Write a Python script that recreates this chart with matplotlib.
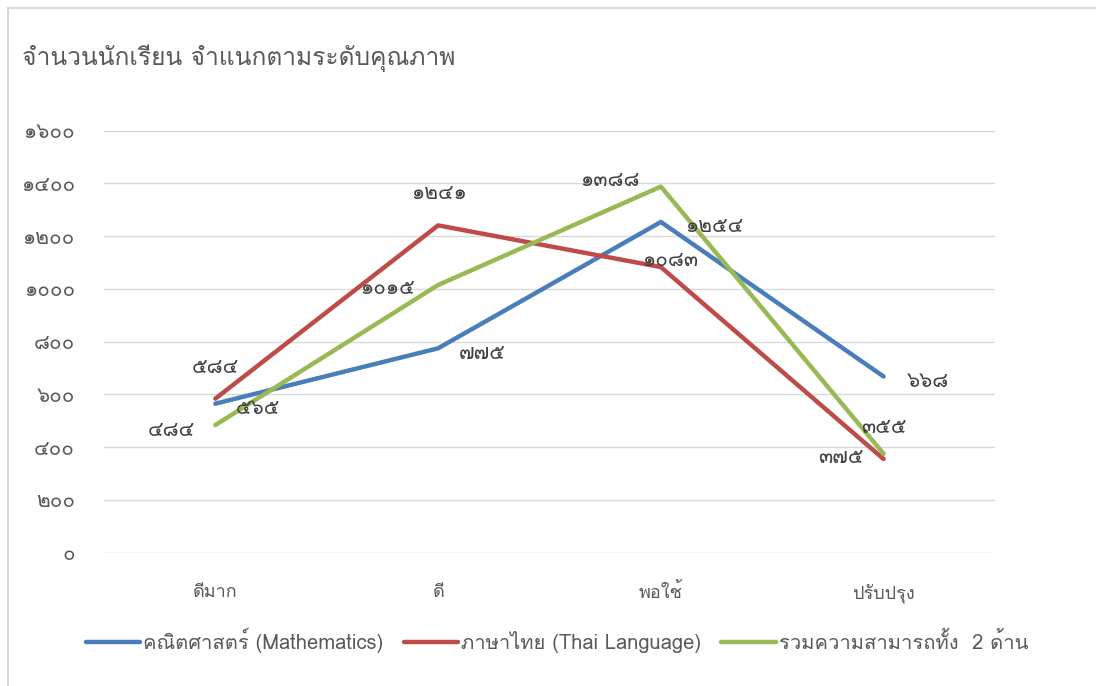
import matplotlib
matplotlib.use("Agg")
import matplotlib.pyplot as plt
from matplotlib import font_manager
from matplotlib.ft2font import FT2Font
from matplotlib.patches import Rectangle

# look for any installed family that has Thai glyphs
thai_fonts = []
for f in font_manager.fontManager.ttflist:
    try:
        if FT2Font(f.fname).get_char_index(ord("ก")) and f.name not in thai_fonts:
            thai_fonts.append(f.name)
    except Exception:
        pass
families = thai_fonts[:2] + ["DejaVu Sans"]
plt.rcParams["font.family"] = families

# data
categories = ["ดีมาก", "ดี", "พอใช้", "ปรับปรุง"]
math_vals = [565, 775, 1254, 668]
thai_vals = [584, 1241, 1083, 355]
total_vals = [484, 1015, 1388, 375]
math_labels = ["๕๖๕", "๗๗๕", "๑๒๕๔", "๖๖๘"]
thai_labels = ["๕๘๔", "๑๒๔๑", "๑๐๘๓", "๓๗๕"]
total_labels = ["๔๘๔", "๑๐๑๕", "๑๓๘๘", "๓๕๕"]
series_names = ["คณิตศาสตร์ (Mathematics)", "ภาษาไทย (Thai Language)", "รวมความสามารถทั้ง  2 ด้าน"]
yticks = [0, 200, 400, 600, 800, 1000, 1200, 1400, 1600]

THAI_DIGITS = str.maketrans("0123456789", "๐๑๒๓๔๕๖๗๘๙")

colors = ["#4a7ebb", "#be4b48", "#98b954"]
# label offsets in pixels (dx, dy), per series and point
offsets = [
    [(43, -5), (44, -5), (53, -5), (44, -5)],
    [(0, 31), (1, 32), (9, 7), (-43, 2)],
    [(-44, -5), (-51, -4), (-51, 6), (0, 26)],
]

fig = plt.figure(figsize=(10.96, 6.86), dpi=100)
fig.patches.append(Rectangle((8 / 1096, -0.01), 1.1, 1 - 8 / 686 + 0.01, transform=fig.transFigure,
                             fill=False, edgecolor="#d9d9d9", linewidth=1.5))
ax = fig.add_axes([104 / 1096, 1 - 552.7 / 686, 891 / 1096, 422 / 686])

x = list(range(len(categories)))
all_vals = [math_vals, thai_vals, total_vals]
all_labels = [math_labels, thai_labels, total_labels]
for vals, labs, offs, c, name in zip(all_vals, all_labels, offsets, colors, series_names):
    ax.plot(x, vals, color=c, linewidth=3.2, label=name, solid_capstyle="round", zorder=3)
    for i in range(len(vals)):
        ax.annotate(labs[i], (x[i], vals[i]), xytext=offs[i], textcoords="offset pixels",
                    ha="center", va="center", fontsize=15, color="#404040", zorder=4)

ax.set_xlim(-0.5, 3.5)
ax.set_ylim(0, 1600)
ax.set_yticks(yticks)
ax.set_yticklabels([str(v).translate(THAI_DIGITS) for v in yticks], fontsize=15, color="#595959")
ax.set_xticks(x)
ax.set_xticklabels(categories, fontsize=13, color="#595959")
ax.tick_params(length=0)
ax.tick_params(axis="y", pad=21)
ax.tick_params(axis="x", pad=22)
ax.grid(axis="y", color="#d9d9d9", linewidth=1)
ax.set_axisbelow(True)
for s in ax.spines.values():
    s.set_visible(False)

fig.text(22 / 1096, 1 - 58 / 686, "จำนวนนักเรียน จำแนกตามระดับคุณภาพ", fontsize=17.7, color="#595959",
         ha="left", va="center")

fig.legend(loc="center", bbox_to_anchor=(557 / 1096, 1 - 640 / 686), ncol=3, frameon=False,
           fontsize=14.5, handlelength=2.7, columnspacing=1.0, handletextpad=0.15,
           labelcolor="#595959")

fig.savefig("out.png", dpi=100)
